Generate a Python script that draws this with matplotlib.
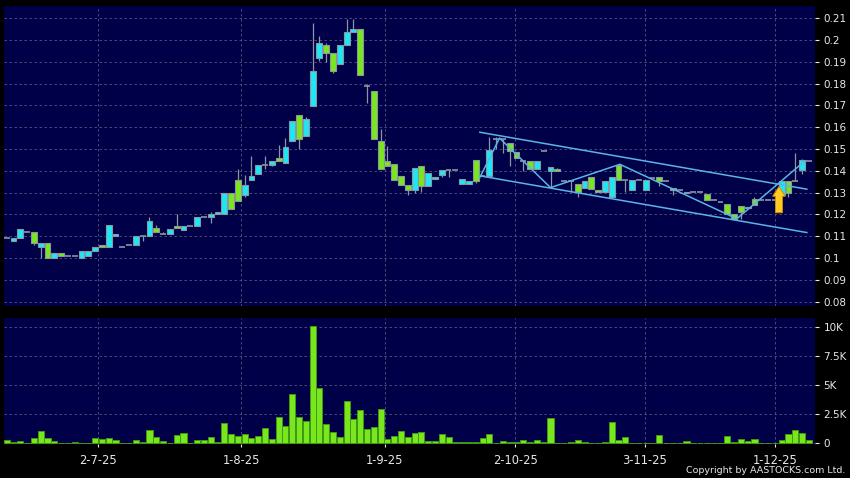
import matplotlib
matplotlib.use("Agg")
import matplotlib.pyplot as plt
from matplotlib.ticker import FixedLocator, FuncFormatter
import numpy as np

# daily OHLC, one entry per trading day
opens = [0.109, 0.108, 0.109, 0.112, 0.112, 0.1049, 0.1068, 0.100, 0.1023, 0.101,
         0.101, 0.100, 0.101, 0.1032, 0.1058, 0.105, 0.110, 0.105, 0.106, 0.106,
         0.110, 0.110, 0.1136, 0.111, 0.111, 0.1148, 0.113, 0.1148, 0.1148, 0.119,
         0.119, 0.120, 0.120, 0.130, 0.136, 0.129, 0.136, 0.1386, 0.1427, 0.1427,
         0.146, 0.1437, 0.1539, 0.1656, 0.1562, 0.1698, 0.1918, 0.1977, 0.194, 0.189,
         0.1977, 0.2037, 0.205, 0.179, 0.1767, 0.1537, 0.1444, 0.143, 0.1378, 0.1336,
         0.131, 0.142, 0.133, 0.1363, 0.1382, 0.1405, 0.1405, 0.1341, 0.134, 0.1451,
         0.1378, 0.1378, 0.1545, 0.1545, 0.1529, 0.1486, 0.1445, 0.1445, 0.141, 0.149,
         0.140, 0.1408, 0.1355, 0.1355, 0.1338, 0.1322, 0.137, 0.1312, 0.1305, 0.128,
         0.1429, 0.136, 0.1312, 0.136, 0.1312, 0.1367, 0.137, 0.1353, 0.132, 0.1312,
         0.130, 0.1305, 0.1305, 0.1294, 0.1264, 0.1255, 0.125, 0.120, 0.1239, 0.1236,
         0.127, 0.1267, 0.1267, 0.1267, 0.129, 0.1353, 0.1353, 0.1404, 0.1445]
highs = [0.109, 0.109, 0.1132, 0.112, 0.112, 0.1068, 0.1068, 0.1023, 0.1023, 0.101,
         0.101, 0.1032, 0.1032, 0.105, 0.1058, 0.115, 0.111, 0.105, 0.106, 0.110,
         0.110, 0.119, 0.1152, 0.112, 0.1133, 0.120, 0.1148, 0.1148, 0.119, 0.119,
         0.121, 0.121, 0.130, 0.130, 0.141, 0.138, 0.147, 0.1427, 0.147, 0.1444,
         0.152, 0.155, 0.1627, 0.1656, 0.1645, 0.208, 0.202, 0.1986, 0.194, 0.1977,
         0.2096, 0.2096, 0.205, 0.180, 0.1767, 0.159, 0.1514, 0.143, 0.1378, 0.1336,
         0.1415, 0.142, 0.139, 0.1372, 0.1405, 0.1405, 0.1405, 0.1363, 0.1355, 0.1451,
         0.1378, 0.1553, 0.1555, 0.1545, 0.1529, 0.1486, 0.1445, 0.1445, 0.1445, 0.149,
         0.1418, 0.1415, 0.1355, 0.1355, 0.1338, 0.1355, 0.137, 0.1312, 0.1353, 0.137,
         0.1429, 0.136, 0.1358, 0.136, 0.1357, 0.1367, 0.137, 0.1353, 0.132, 0.1312,
         0.1305, 0.1305, 0.1305, 0.1294, 0.1264, 0.1255, 0.125, 0.120, 0.1239, 0.1236,
         0.128, 0.1267, 0.1267, 0.1267, 0.1353, 0.1353, 0.148, 0.1455, 0.1445]
lows = [0.109, 0.108, 0.109, 0.112, 0.1058, 0.100, 0.100, 0.100, 0.101, 0.101,
        0.101, 0.100, 0.101, 0.1032, 0.105, 0.105, 0.110, 0.105, 0.106, 0.106,
        0.108, 0.110, 0.1121, 0.111, 0.111, 0.1139, 0.113, 0.1148, 0.1148, 0.119,
        0.116, 0.120, 0.120, 0.1227, 0.126, 0.128, 0.136, 0.1386, 0.141, 0.142,
        0.1447, 0.1437, 0.1539, 0.150, 0.1562, 0.1698, 0.1905, 0.1898, 0.185, 0.189,
        0.1977, 0.2037, 0.184, 0.171, 0.1547, 0.141, 0.1421, 0.136, 0.1337, 0.129,
        0.130, 0.1305, 0.133, 0.1363, 0.137, 0.137, 0.1405, 0.1341, 0.134, 0.1345,
        0.1378, 0.1378, 0.150, 0.148, 0.1424, 0.146, 0.140, 0.141, 0.141, 0.149,
        0.132, 0.140, 0.1355, 0.1305, 0.128, 0.1322, 0.1316, 0.1303, 0.1305, 0.128,
        0.136, 0.1305, 0.1312, 0.136, 0.1312, 0.1367, 0.133, 0.1353, 0.129, 0.1312,
        0.130, 0.1305, 0.1305, 0.1264, 0.1264, 0.1255, 0.120, 0.118, 0.118, 0.123,
        0.1244, 0.1267, 0.1267, 0.1267, 0.129, 0.128, 0.1353, 0.1385, 0.1445]
closes = [0.109, 0.109, 0.1132, 0.112, 0.1068, 0.1068, 0.100, 0.1023, 0.101, 0.101,
          0.101, 0.1032, 0.1032, 0.105, 0.105, 0.115, 0.111, 0.105, 0.106, 0.110,
          0.110, 0.1168, 0.1121, 0.111, 0.1133, 0.1139, 0.1148, 0.1148, 0.119, 0.119,
          0.120, 0.121, 0.130, 0.1227, 0.126, 0.1336, 0.1376, 0.1427, 0.1427, 0.1444,
          0.1447, 0.1511, 0.1627, 0.1547, 0.1638, 0.1858, 0.1986, 0.194, 0.1856, 0.1977,
          0.2037, 0.205, 0.184, 0.179, 0.1547, 0.141, 0.1421, 0.136, 0.1337, 0.131,
          0.1411, 0.133, 0.139, 0.1372, 0.1405, 0.1405, 0.1405, 0.1363, 0.1355, 0.1352,
          0.1378, 0.1497, 0.1545, 0.1545, 0.149, 0.146, 0.1445, 0.141, 0.1445, 0.149,
          0.1418, 0.140, 0.1355, 0.1355, 0.1303, 0.1355, 0.1316, 0.1303, 0.1353, 0.137,
          0.136, 0.136, 0.1358, 0.136, 0.1357, 0.1367, 0.1353, 0.1353, 0.131, 0.1312,
          0.1305, 0.1305, 0.1305, 0.1264, 0.1264, 0.1255, 0.120, 0.118, 0.1213, 0.123,
          0.1244, 0.1267, 0.1267, 0.1267, 0.1353, 0.1298, 0.1353, 0.145, 0.1445]
# volume in thousands of shares
volumes = [0.29, 0.14, 0.2, 0, 0.49, 1.06, 0.43, 0.2, 0, 0,
           0.09, 0, 0, 0.43, 0.4, 0.46, 0.29, 0, 0, 0.29,
           0.11, 1.14, 0.51, 0.2, 0, 0.71, 0.91, 0.06, 0.31, 0.31,
           0.54, 0.11, 1.74, 0.77, 0.6, 0.77, 0.46, 0.63, 1.29, 0.37,
           2.29, 1.46, 4.2, 2.23, 1.94, 10.1, 4.74, 1.66, 0.94, 0.51,
           3.6, 2.06, 2.86, 1.2, 1.4, 2.94, 0.4, 0.63, 1.03, 0.57,
           0.91, 1.0, 0.23, 0.2, 0.77, 0.57, 0.09, 0.09, 0.14, 0.09,
           0.43, 0.77, 0.06, 0.23, 0.09, 0.09, 0.26, 0.11, 0.26, 0.09,
           2.14, 0.06, 0, 0.14, 0.26, 0.11, 0, 0.06, 0.14, 1.83,
           0.26, 0.54, 0.06, 0, 0.06, 0, 0.74, 0, 0.06, 0,
           0.17, 0, 0.06, 0.06, 0.06, 0, 0.6, 0.09, 0.37, 0.17,
           0.34, 0, 0, 0.06, 0.31, 0.77, 1.14, 0.89, 0.26]

date_labels = ["2-7-25", "1-8-25", "1-9-25", "2-10-25", "3-11-25", "1-12-25"]
date_pos = [13.4, 34.5, 55.65, 74.8, 93.85, 113.0]

# drawn channel and zigzag (day index, price)
channel_x = [69.6, 117.7]
channel_top = [0.1577, 0.1316]
channel_bot = [0.1377, 0.1117]
zigzag_x = [69.6, 72.5, 80.0, 90.2, 107.4, 117.4]
zigzag_y = [0.137, 0.155, 0.1323, 0.143, 0.118, 0.1445]
arrow_x = 113.6
arrow_lo, arrow_hi = 0.1208, 0.1328

bg = "#000048"
up_col = "#1ee6f5"
dn_col = "#7ae61e"
edge = "#8c96a0"
grid_col = "#555580"
line_col = "#5ab4e6"
txt = "#e8e8e8"

o = np.array(opens)
h = np.array(highs)
l = np.array(lows)
c = np.array(closes)
idx = np.arange(len(o))
flat = o == c
up = c > o
w = 0.86

fig = plt.figure(figsize=(8.5, 4.78), dpi=100, facecolor="black")
ax = fig.add_axes([0.0047, 0.3598, 0.9541, 0.6276])
axv = fig.add_axes([0.0047, 0.0711, 0.9541, 0.2630], sharex=ax)

ax.vlines(idx, l, h, color=edge, lw=0.9, zorder=2)
body_cols = np.where(up, up_col, dn_col)
ax.bar(idx[~flat], np.abs(c - o)[~flat], w, bottom=np.minimum(o, c)[~flat],
       color=body_cols[~flat], edgecolor=edge, lw=0.8, zorder=3)
ax.hlines(o[flat], idx[flat] - w / 2, idx[flat] + w / 2, color=edge, lw=1.2, zorder=3)

ax.plot(channel_x, channel_top, color=line_col, lw=1.1, zorder=4)
ax.plot(channel_x, channel_bot, color=line_col, lw=1.1, zorder=4)
ax.plot(zigzag_x, zigzag_y, color=line_col, lw=1.1, zorder=4)
ax.annotate("", xy=(arrow_x, arrow_hi), xytext=(arrow_x, arrow_lo),
            arrowprops=dict(arrowstyle="simple,head_length=0.7,head_width=0.9,tail_width=0.5",
                            fc="#ffcc22", ec="#d88a00", lw=0.7, mutation_scale=10,
                            shrinkA=0, shrinkB=0), zorder=5)

axv.bar(idx, volumes, 0.9, color=dn_col, edgecolor="#3f9a12", lw=0.7, zorder=3)

ax.set_xlim(-0.4, 118.9)
ax.set_ylim(0.078, 0.2156)
axv.set_ylim(-0.06, 10.72)

for a in (ax, axv):
    a.set_facecolor(bg)
    for s in a.spines.values():
        s.set_visible(False)
    a.yaxis.tick_right()
    a.tick_params(axis="y", colors=txt, labelsize=7.5, length=3, width=0.8, pad=3)
    a.grid(True, color=grid_col, ls=(0, (3, 3)), lw=0.6, zorder=0)
    a.set_axisbelow(True)

ax.yaxis.set_major_locator(FixedLocator(np.round(np.arange(0.08, 0.215, 0.01), 2)))
ax.yaxis.set_major_formatter(FuncFormatter(lambda v, p: f"{round(v, 2):g}"))
axv.yaxis.set_major_locator(FixedLocator([0, 2.5, 5, 7.5, 10]))
axv.yaxis.set_major_formatter(FuncFormatter(lambda v, p: "0" if v == 0 else f"{v:g}K"))

axv.set_xticks(date_pos, date_labels)
ax.tick_params(axis="x", bottom=False, labelbottom=False)
axv.tick_params(axis="x", colors=txt, labelsize=8.3, length=2.5, width=0.8, pad=4.5)

fig.text(0.995, 0.0167, "Copyright by AASTOCKS.com Ltd.", ha="right", va="center",
         color=txt, fontsize=6.8)

fig.savefig("out.png", dpi=100, facecolor="black")
